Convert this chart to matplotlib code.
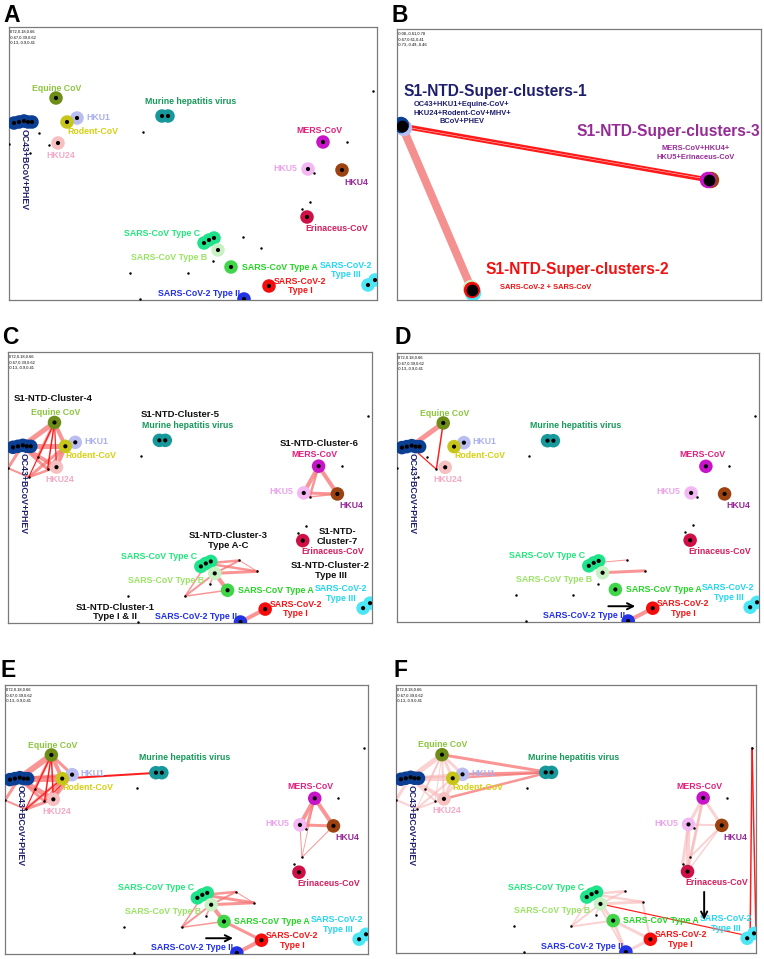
import matplotlib
matplotlib.use("Agg")
import matplotlib.pyplot as plt

plt.rcParams['font.family'] = ['Liberation Sans', 'DejaVu Sans']

FW, FH = 764, 959
W, H = 368, 273  # reference panel coordinate system

# ---------------- data ----------------
node_names = ["OC43", "Equine", "HKU1", "Rodent", "HKU24", "MHV", "MERS", "HKU5", "HKU4",
              "Erinaceus", "SCoV_C", "SCoV_B", "SCoV_A", "SCoV2_I", "SCoV2_II", "SCoV2_III"]
node_x = [14, 47, 68, 58, 49, 156, 314, 299, 333, 298, 201, 209, 222, 260, 235, 362]
node_y = [95, 71, 91, 95, 116, 89, 115, 142, 143, 190, 213, 223, 240, 259, 272, 256]
node_colors = ["#0b3f94", "#6e8c18", "#b9bdf0", "#c7c41a", "#f6c0c0", "#17999c", "#c814c8",
               "#f3b8f3", "#9c4210", "#cf1046", "#1fe38a", "#c9f2c4", "#3fd64a", "#f50c0c",
               "#2233e6", "#4de6f5"]

label_text = ["OC43+BCoV+PHEV", "Equine CoV", "HKU1", "Rodent-CoV", "HKU24",
              "Murine hepatitis virus", "MERS-CoV", "HKU5", "HKU4", "Erinaceus-CoV",
              "SARS-CoV Type C", "SARS-CoV Type B", "SARS-CoV Type A", "SARS-CoV-2\nType I",
              "SARS-CoV-2 Type II", "SARS-CoV-2\nType III"]
label_x = [15, 48, 89, 84, 52, 182, 310, 276, 347, 328, 153, 160, 271, 291, 190, 337]
label_y = [143, 61, 90, 104, 128, 74, 103, 141, 155, 201, 206, 230, 240, 259, 266, 243]
label_colors = ["#1c1c6c", "#8cc63e", "#a9aef0", "#d6d010", "#f4a8c4", "#16995a", "#e0207c",
                "#eaa2ea", "#98289a", "#d41c5c", "#1ee87a", "#98e462", "#22d622", "#f51414",
                "#1f2ee8", "#22d6f2"]

dot_names = ["p0", "p1", "p2", "p3", "p4", "p5", "p6", "p7", "p8", "p9", "p10", "p11",
             "p12", "p13", "p14", "p15"]
dot_x = [30, 21, 40, 134, 364, 338, 301, 293, 234, 252, 204, 179, 121, 131, 305, 0]
dot_y = [106, 126, 118, 105, 64, 115, 175, 182, 210, 221, 234, 246, 246, 272, 146, 117]

cluster_text = ["S1-NTD-Cluster-4", "S1-NTD-Cluster-5", "S1-NTD-Cluster-6",
                "S1-NTD-Cluster-3\nType A-C", "S1-NTD-\nCluster-7",
                "S1-NTD-Cluster-2\nType III", "S1-NTD-Cluster-1\nType I & II"]
cluster_x = [46, 174, 315, 223, 333, 326, 108]
cluster_y = [47, 63, 92, 190, 186, 220, 262]

coord_text_main = "0.72,0.18,0.66\n-0.67,0.39,0.62\n-0.13,-0.9,0.41"
coord_text_b = "-0.08,-0.61,0.78\n-0.67,0.61,0.41\n-0.73,-0.49,-0.46"

# panel B (super-clusters)
sc_x = [5, 312, 75]
sc_y = [97, 151, 261]
sc_title = ["S1-NTD-Super-clusters-1", "S1-NTD-Super-clusters-3", "S1-NTD-Super-clusters-2"]
sc_sub = ["OC43+HKU1+Equine-CoV+\nHKU24+Rodent-CoV+MHV+\nBCoV+PHEV",
          "MERS-CoV+HKU4+\nHKU5+Erinaceus-CoV", "SARS-CoV-2 + SARS-CoV"]
sc_title_xy = [(98, 62), (271, 102), (180, 240)]
sc_sub_xy = [(65, 84), (299, 124), (149, 258)]
sc_colors = ["#1e1e6e", "#952c95", "#f21010"]

SAL = "#f77272"
RED = "#ff1212"
PALE = "#f9b4b4"

edges_C = [
    ("OC43", "Equine", 5, SAL), ("OC43", "Rodent", 5, SAL), ("OC43", "HKU24", 4, SAL),
    ("OC43", "p15", 3, SAL), ("Equine", "Rodent", 4, SAL), ("Rodent", "HKU24", 4, SAL),
    ("Equine", "p0", 3, SAL), ("Rodent", "p1", 3, SAL), ("HKU24", "p1", 2.5, SAL),
    ("OC43", "p2", 3, SAL), ("Rodent", "p2", 2, SAL), ("p15", "p1", 2, SAL),
    ("Equine", "p1", 1.2, RED), ("Equine", "p2", 1.5, RED), ("Equine", "HKU24", 1.2, RED),
    ("MERS", "HKU5", 4, SAL), ("MERS", "HKU4", 4, SAL), ("HKU5", "HKU4", 3, SAL),
    ("MERS", "p14", 2.5, SAL), ("HKU4", "p14", 1.5, SAL),
    ("Erinaceus", "p7", 0.8, PALE),
    ("SCoV_C", "p8", 2.5, SAL), ("SCoV_C", "p9", 2.5, SAL), ("SCoV_B", "p8", 2, SAL),
    ("SCoV_B", "p9", 3, SAL), ("SCoV_B", "SCoV_A", 4, SAL), ("SCoV_B", "p11", 2, SAL),
    ("SCoV_C", "p11", 1.5, SAL), ("SCoV_A", "p11", 1.5, SAL), ("SCoV_B", "p10", 1.5, SAL),
    ("p8", "p9", 1, SAL),
    ("SCoV2_II", "SCoV2_I", 4, SAL),
]

edges_D = [
    ("OC43", "Equine", 5, SAL), ("Equine", "p2", 1.5, RED), ("OC43", "p2", 1.2, RED),
    ("SCoV_C", "p8", 1, SAL), ("SCoV_B", "p9", 3, SAL),
    ("SCoV2_II", "SCoV2_I", 4, SAL),
]

edges_E = [
    ("OC43", "Equine", 6, SAL), ("OC43", "Rodent", 6, SAL), ("OC43", "HKU24", 5, SAL),
    ("OC43", "HKU1", 3, SAL), ("OC43", "p15", 3, SAL), ("Equine", "Rodent", 4, SAL),
    ("Equine", "HKU1", 3, SAL), ("Rodent", "HKU24", 4, SAL), ("HKU1", "HKU24", 3, SAL),
    ("Equine", "p0", 3, SAL), ("Rodent", "p1", 3, SAL), ("HKU24", "p1", 3, SAL),
    ("OC43", "p2", 3, SAL), ("Rodent", "p2", 2, SAL), ("p15", "p1", 2, SAL),
    ("Equine", "p1", 1.2, RED), ("Equine", "p2", 1.5, RED), ("Equine", "HKU24", 1.5, RED),
    ("Rodent", "p1", 1.0, RED), ("HKU1", "p2", 1.0, RED),
    ("Rodent", "MHV", 2, RED),
    ("MERS", "HKU5", 4, SAL), ("MERS", "HKU4", 4, SAL), ("HKU5", "HKU4", 3, SAL),
    ("MERS", "p14", 2.5, SAL), ("HKU4", "p6", 1, SAL), ("HKU5", "p6", 1, SAL),
    ("MERS", "p6", 0.8, SAL),
    ("SCoV_C", "p8", 2.5, SAL), ("SCoV_C", "p9", 3, SAL), ("SCoV_B", "p8", 2, SAL),
    ("SCoV_B", "p9", 3, SAL), ("SCoV_B", "SCoV_A", 4, SAL), ("SCoV_B", "p11", 2, SAL),
    ("SCoV_C", "p11", 1.5, SAL), ("SCoV_A", "p11", 1.5, SAL), ("SCoV_B", "p10", 1.5, SAL),
    ("p8", "p9", 1, SAL), ("SCoV_A", "SCoV2_I", 3, SAL),
    ("SCoV2_II", "SCoV2_I", 4, SAL),
]

edges_F = [
    ("OC43", "Equine", 5, PALE), ("OC43", "Rodent", 5, PALE), ("OC43", "HKU24", 4, PALE),
    ("OC43", "HKU1", 3, PALE), ("OC43", "p15", 3, PALE), ("Equine", "Rodent", 3, PALE),
    ("Equine", "HKU1", 3, PALE), ("Rodent", "HKU24", 3, PALE), ("HKU1", "HKU24", 2, PALE),
    ("Equine", "p0", 2, PALE), ("Rodent", "p1", 2, PALE), ("HKU24", "p1", 2, PALE),
    ("OC43", "p2", 2, PALE), ("p15", "p1", 2, PALE), ("Equine", "p1", 1, PALE),
    ("Equine", "p2", 1, PALE), ("Equine", "HKU24", 2, PALE),
    ("Equine", "MHV", 3, SAL), ("HKU1", "MHV", 3, SAL), ("Rodent", "MHV", 2, SAL),
    ("HKU24", "MHV", 2.5, SAL),
    ("MERS", "HKU5", 3, PALE), ("MERS", "HKU4", 3, PALE), ("HKU5", "HKU4", 2, PALE),
    ("MERS", "Erinaceus", 3, PALE), ("HKU5", "Erinaceus", 4, PALE), ("HKU4", "p6", 2, PALE),
    ("MERS", "p6", 2, PALE), ("HKU5", "p7", 3, PALE), ("HKU4", "Erinaceus", 1.5, PALE),
    ("SCoV_C", "p8", 2.5, PALE), ("SCoV_C", "p9", 2.5, PALE), ("SCoV_B", "p8", 2, PALE),
    ("SCoV_B", "p9", 3, PALE), ("SCoV_B", "SCoV_A", 3, PALE), ("SCoV_B", "p11", 2, PALE),
    ("SCoV_C", "p11", 1.5, PALE), ("SCoV_A", "p11", 2, PALE), ("SCoV_B", "p10", 1.5, PALE),
    ("SCoV_A", "SCoV2_I", 3, PALE), ("SCoV_A", "SCoV2_II", 3, PALE),
    ("SCoV2_II", "SCoV2_I", 3, PALE), ("p9", "SCoV2_I", 2, PALE), ("SCoV_C", "SCoV2_II", 2, PALE),
    ("SCoV_B", "SCoV2_III", 1.2, RED),
    ("p4", "SCoV2_III", 1.5, RED), ("p4", "p4b", 1.5, RED),
]

pos = {n: (x, y) for n, x, y in zip(node_names, node_x, node_y)}
pos.update({n: (x, y) for n, x, y in zip(dot_names, dot_x, dot_y)})
pos["p4b"] = (368, 252)

blob_offsets = {
    "OC43": [(-9, 1), (-4, 0), (1, -1), (5, 0), (9, 0)],
    "MHV": [(-3, 0), (3, 0)],
    "SCoV_C": [(-6, 3), (-1, 0), (4, -2)],
    "SCoV2_III": [(-3, 2), (4, -3)],
}

# ---------------- drawing ----------------
fig = plt.figure(figsize=(FW / 100, FH / 100), dpi=100)

LBL_FS = 6.3


def make_ax(l, t, r, b, w=W, h=H):
    ax = fig.add_axes([l / FW, 1 - b / FH, (r - l) / FW, (b - t) / FH])
    ax.set_xlim(0, w)
    ax.set_ylim(h, 0)
    ax.set_xticks([])
    ax.set_yticks([])
    for s in ax.spines.values():
        s.set_color("#7a7a7a")
        s.set_linewidth(0.9)
    return ax


def draw_edges(ax, edges):
    for a, b, w, c in edges:
        xa, ya = pos[a]
        xb, yb = pos[b]
        alpha = 0.75 if c == SAL else (0.6 if c == PALE else 0.95)
        ax.plot([xa, xb], [ya, yb], color=c, lw=w * 0.72, alpha=alpha,
                solid_capstyle="round", zorder=2)


def draw_nodes(ax):
    for n, x, y, c in zip(node_names, node_x, node_y, node_colors):
        offs = blob_offsets.get(n, [(0, 0)])
        for dx, dy in offs:
            ax.scatter(x + dx, y + dy, s=95, color=c, edgecolors="none", zorder=4)
        for dx, dy in offs:
            ax.scatter(x + dx, y + dy, s=9, color="black", marker="o", edgecolors="none",
                       zorder=5)
    ax.scatter(dot_x, dot_y, s=0.6, color="black", zorder=5, clip_on=True)


def draw_labels(ax):
    for t, x, y, c in zip(label_text, label_x, label_y, label_colors):
        rot = -90 if t.startswith("OC43") else 0
        ax.text(x, y, t, color=c, fontsize=LBL_FS, fontweight="bold", ha="center",
                va="center", rotation=rot, linespacing=1.1, zorder=6)
    ax.text(1, 3, coord_text_main, fontsize=2.9, va="top", ha="left", linespacing=1.5)


def panel_letter(x, y, s):
    fig.text(x / FW, 1 - y / FH, s, fontsize=16.5, fontweight="bold", ha="left", va="top")


def arrow(ax, x0, y0, x1, y1):
    ax.annotate("", xy=(x1, y1), xytext=(x0, y0),
                arrowprops=dict(arrowstyle="->", color="black", lw=1.4,
                                mutation_scale=11), zorder=7)


# Panel A
axA = make_ax(9, 27, 377, 300)
draw_nodes(axA)
draw_labels(axA)
panel_letter(3, 4, "A")

# Panel B
axB = make_ax(397, 29, 761, 300, 364, 271)
axB.plot([sc_x[0], sc_x[1]], [sc_y[0], sc_y[1]], color="#ff1a1a", lw=5 * 0.72, zorder=2)
axB.plot([sc_x[0], sc_x[1]], [sc_y[0] + 0.5, sc_y[1] - 0.5], color="white", lw=0.3, zorder=2)
axB.plot([sc_x[0], sc_x[2]], [sc_y[0], sc_y[2]], color="#f59090", lw=8 * 0.72, zorder=2)
ring_cols = [["#b9bdf0", "#0b3f94"], ["#9c4210", "#c814c8"], ["#4de6f5", "#c9f2c4", "#f50c0c"]]
ring_offs = [[(2, 2), (-1, -1)], [(2, 0), (-1, 0)], [(1, 3), (-1, -2), (0, 0)]]
for x, y, cols, offs in zip(sc_x, sc_y, ring_cols, ring_offs):
    for c, (dx, dy) in zip(cols, offs):
        axB.scatter(x + dx, y + dy, s=140, color=c, edgecolors="none", zorder=4)
    axB.scatter(x, y, s=55, color="black", zorder=5)
for t, (x, y), c in zip(sc_title, sc_title_xy, sc_colors):
    axB.text(x, y, t, fontsize=11.2, fontweight="bold", color=c, ha="center", va="center",
             zorder=6)
for t, (x, y), c in zip(sc_sub, sc_sub_xy, sc_colors):
    axB.text(x, y, t, fontsize=5.4, fontweight="bold", color=c, ha="center", va="center",
             linespacing=1.25, zorder=6)
axB.text(1, 3, coord_text_b, fontsize=2.9, va="top", ha="left", linespacing=1.5)
panel_letter(391, 4, "B")

# Panel C
axC = make_ax(8, 352, 372, 623)
draw_edges(axC, edges_C)
draw_nodes(axC)
draw_labels(axC)
for t, x, y in zip(cluster_text, cluster_x, cluster_y):
    axC.text(x, y, t, fontsize=6.8, fontweight="bold", color="#111111", ha="center",
             va="center", linespacing=1.05, zorder=6)
panel_letter(2, 326, "C")

# Panel D
axD = make_ax(397, 353, 759, 622)
draw_edges(axD, edges_D)
draw_nodes(axD)
draw_labels(axD)
arrow(axD, 212, 257, 245, 257)
panel_letter(395, 326, "D")

# Panel E
axE = make_ax(5, 685, 368, 954)
draw_edges(axE, edges_E)
draw_nodes(axE)
draw_labels(axE)
arrow(axE, 201, 257, 234, 257)
panel_letter(0, 659, "E")

# Panel F
axF = make_ax(396, 685, 756, 953)
draw_edges(axF, edges_F)
draw_nodes(axF)
draw_labels(axF)
arrow(axF, 315, 208, 315, 242)
panel_letter(394, 659, "F")

fig.savefig("out.png", dpi=100)
